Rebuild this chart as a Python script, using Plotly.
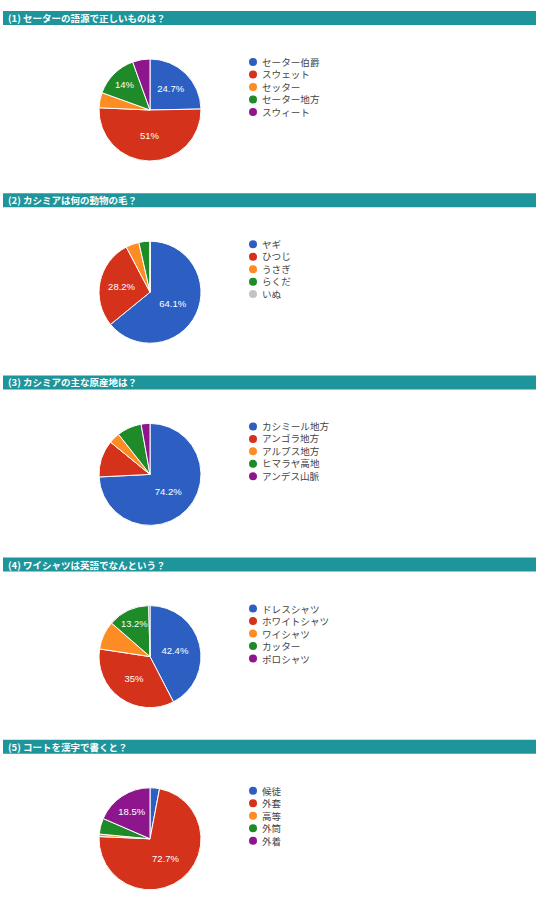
import plotly.graph_objects as go

# survey results (percent of answers)
titles = [
    '(1) セーターの語源で正しいものは？',
    '(2) カシミアは何の動物の毛？',
    '(3) カシミアの主な原産地は？',
    '(4) ワイシャツは英語でなんという？',
    '(5) コートを漢字で書くと？',
]

labels_1 = ['セーター伯爵', 'スウェット', 'セッター', 'セーター地方', 'スウィート']
values_1 = [24.7, 51.0, 4.8, 14.0, 5.5]

labels_2 = ['ヤギ', 'ひつじ', 'うさぎ', 'らくだ', 'いぬ']
values_2 = [64.1, 28.2, 4.2, 3.5, 0.0]

labels_3 = ['カシミール地方', 'アンゴラ地方', 'アルプス地方', 'ヒマラヤ高地', 'アンデス山脈']
values_3 = [74.2, 11.7, 3.5, 7.8, 2.8]

labels_4 = ['ドレスシャツ', 'ホワイトシャツ', 'ワイシャツ', 'カッター', 'ポロシャツ']
values_4 = [42.4, 35.0, 9.0, 13.2, 0.4]

labels_5 = ['候徒', '外套', '高等', '外筒', '外着']
values_5 = [3.0, 72.7, 0.8, 5.0, 18.5]

colors = ['#2d5fc3', '#d5321c', '#fc8c23', '#1e8a28', '#8e168c']
colors_2 = ['#2d5fc3', '#d5321c', '#fc8c23', '#1e8a28', '#c4c4c4']

W, H = 551, 902
SECTION = 182.2
BAR_TOP = 11
TEAL = '#1d959b'
CJK = 'Noto Sans CJK JP'
LEG_FONT = 9.6           # plotly line spacing is 1.3em -> ~12.5px rows
ROW = LEG_FONT * 1.3


def px_x(x):
    return x / W


def px_y(y):
    return 1 - y / H


def slice_text(values):
    return [f'{v:g}%' if v >= 12 else '' for v in values]


questions = [
    (labels_1, values_1, colors),
    (labels_2, values_2, colors_2),
    (labels_3, values_3, colors),
    (labels_4, values_4, colors),
    (labels_5, values_5, colors),
]

fig = go.Figure()
shapes = []
annotations = []

for i, (labels, values, cols) in enumerate(questions):
    top = BAR_TOP + i * SECTION
    cy = top + 99
    cx = 150
    r = 51

    fig.add_trace(go.Pie(
        labels=labels,
        values=values,
        sort=False,
        direction='clockwise',
        rotation=0,
        text=slice_text(values),
        textinfo='text',
        textposition='inside',
        insidetextorientation='horizontal',
        textfont=dict(family='Liberation Sans, ' + CJK, size=9.5, color='white'),
        marker=dict(colors=cols, line=dict(color='white', width=1)),
        domain=dict(x=[px_x(cx - r), px_x(cx + r)], y=[px_y(cy + r), px_y(cy - r)]),
        showlegend=False,
        hoverinfo='label+percent',
    ))

    # title bar
    shapes.append(dict(type='rect', xref='paper', yref='paper',
                       x0=px_x(3), x1=px_x(536), y0=px_y(top + 14), y1=px_y(top),
                       fillcolor=TEAL, line=dict(width=0), layer='below'))
    annotations.append(dict(text='<b>' + titles[i] + '</b>', xref='paper', yref='paper',
                            x=px_x(6), y=px_y(top + 7), xanchor='left', yanchor='middle',
                            showarrow=False, font=dict(family=CJK, size=9.5, color='white')))

    # legend: one text block, dots lined up with its rows
    first = top + 51
    for j in range(len(labels)):
        ly = first + j * ROW
        shapes.append(dict(type='circle', xref='paper', yref='paper',
                           xsizemode='pixel', ysizemode='pixel',
                           xanchor=px_x(253), yanchor=px_y(ly),
                           x0=-4, x1=4, y0=-4, y1=4,
                           fillcolor=cols[j], line=dict(width=0)))
    annotations.append(dict(text='<br>'.join(labels), xref='paper', yref='paper',
                            x=px_x(260), y=px_y(first + (len(labels) - 1) * ROW / 2),
                            xanchor='left', yanchor='middle', align='left',
                            showarrow=False, font=dict(family=CJK, size=LEG_FONT, color='#444444')))

fig.update_layout(
    width=W,
    height=H,
    margin=dict(l=0, r=0, t=0, b=0),
    paper_bgcolor='white',
    plot_bgcolor='white',
    shapes=shapes,
    annotations=annotations,
)

fig.write_html('out.html', config={'displayModeBar': False},
               post_script="document.body.style.margin='0';")
